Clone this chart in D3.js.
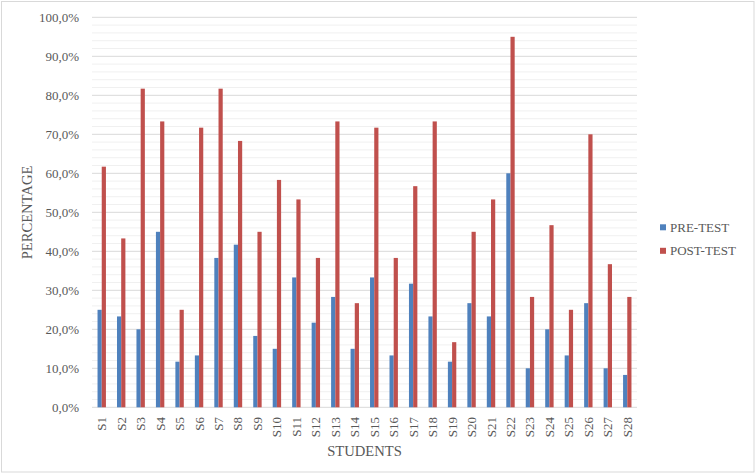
<!DOCTYPE html>
<html>
<head>
<meta charset="utf-8">
<script src="https://cdn.jsdelivr.net/npm/d3@7"></script>
<style>
  body { margin: 0; background: #fff; }
  text { font-family: "Liberation Serif", "Times New Roman", serif; fill: #595959; }
</style>
</head>
<body>
<svg></svg>
<script>
/* data */
const students = d3.range(1, 29).map((i) => 'S' + i);
const seriesNames = ['PRE-TEST', 'POST-TEST'];
const preTest = [25.0, 23.3, 20.0, 45.0, 11.7, 13.3, 38.3, 41.7, 18.3, 15.0, 33.3, 21.7, 28.3, 15.0,
	33.3, 13.3, 31.7, 23.3, 11.7, 26.7, 23.3, 60.0, 10.0, 20.0, 13.3, 26.7, 10.0, 8.3];
const postTest = [61.7, 43.3, 81.7, 73.3, 25.0, 71.7, 81.7, 68.3, 45.0, 58.3, 53.3, 38.3, 73.3, 26.7,
	71.7, 38.3, 56.7, 73.3, 16.7, 45.0, 53.3, 95.0, 28.3, 46.7, 25.0, 70.0, 36.7, 28.3];
const majorTicks = d3.range(0, 101, 10);
const minorTicks = d3.range(0, 101, 2).filter((v) => v % 10 !== 0);
const colors = ['#4f81bd', '#c0504d'];

const width = 756, height = 474;
const plot = {L: 92, R: 637, T: 17.3, B: 407.3};

const svg = d3.select('svg').attr('width', width).attr('height', height);

/* chart border */
svg.append('rect')
	.attr('x', 1.5).attr('y', 1.5)
	.attr('width', width - 3.5).attr('height', height - 3.5)
	.attr('fill', '#fff')
	.attr('stroke', '#d9d9d9');

const x = d3.scaleBand().domain(students).range([plot.L, plot.R]);
const y = d3.scaleLinear().domain([0, 100]).range([plot.B, plot.T]);
const barW = 4.2;

/* gridlines */
svg.append('g').selectAll('line').data(minorTicks).enter().append('line')
	.attr('x1', plot.L).attr('x2', plot.R)
	.attr('y1', (d) => y(d)).attr('y2', (d) => y(d))
	.attr('stroke', '#f0f0f0').attr('stroke-width', 1);
svg.append('g').selectAll('line').data(majorTicks).enter().append('line')
	.attr('x1', plot.L).attr('x2', plot.R)
	.attr('y1', (d) => y(d)).attr('y2', (d) => y(d))
	.attr('stroke', '#d9d9d9').attr('stroke-width', 1);

/* bars */
[preTest, postTest].forEach(function (values, s) {
	svg.append('g').selectAll('rect').data(values).enter().append('rect')
		.attr('x', (d, i) => x(students[i]) + x.bandwidth() / 2 - barW + s * barW)
		.attr('y', (d) => y(d))
		.attr('width', barW)
		.attr('height', (d) => y(0) - y(d))
		.attr('fill', colors[s]);
});

/* y axis labels */
svg.append('g').selectAll('text').data(majorTicks).enter().append('text')
	.attr('x', 79)
	.attr('y', (d) => y(d))
	.attr('dy', '0.35em')
	.attr('text-anchor', 'end')
	.style('font-size', '13px')
	.text((d) => d.toFixed(1).replace('.', ',') + '%');

/* x axis labels */
svg.append('g').selectAll('text').data(students).enter().append('text')
	.attr('transform', (d) => `translate(${x(d) + x.bandwidth() / 2 + 4.5},417) rotate(-90)`)
	.attr('text-anchor', 'end')
	.style('font-size', '13px')
	.text((d) => d);

/* axis titles */
svg.append('text')
	.attr('transform', 'translate(32,212.5) rotate(-90)')
	.attr('text-anchor', 'middle')
	.style('font-size', '14.6px')
	.text('PERCENTAGE');
svg.append('text')
	.attr('x', 364.5).attr('y', 456)
	.attr('text-anchor', 'middle')
	.style('font-size', '14.6px')
	.text('STUDENTS');

/* legend */
const legend = svg.append('g').selectAll('g').data(seriesNames).enter().append('g')
	.attr('transform', (d, i) => `translate(660,${227.3 + i * 23.5})`);
legend.append('rect')
	.attr('x', 0).attr('y', -3)
	.attr('width', 6).attr('height', 6)
	.attr('fill', (d, i) => colors[i]);
legend.append('text')
	.attr('x', 10).attr('dy', '0.35em')
	.style('font-size', '13px')
	.text((d) => d);
</script>
</body>
</html>
